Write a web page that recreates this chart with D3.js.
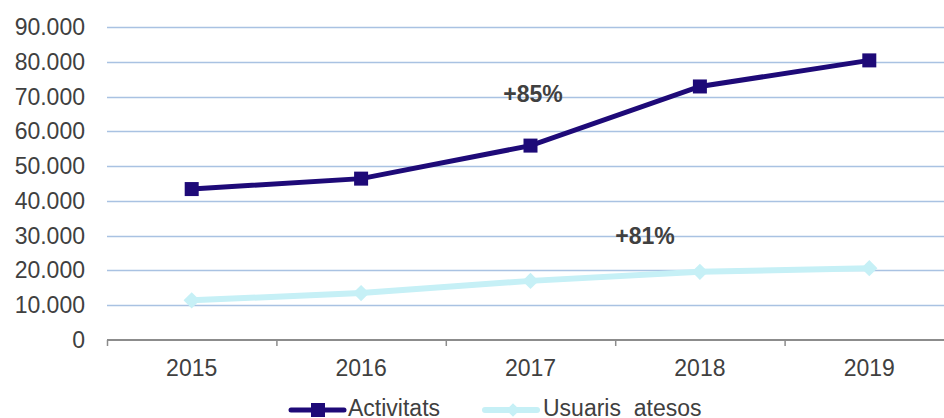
<!DOCTYPE html>
<html>
<head>
<meta charset="utf-8">
<script src="https://cdn.jsdelivr.net/npm/d3@7"></script>
<style>
  body { margin: 0; background: #fff; }
  svg { display: block; font-family: "Liberation Sans", Arial, sans-serif; }
</style>
</head>
<body>
<svg id="chart" width="944" height="418"></svg>
<script>
// chart data
const years = ["2015", "2016", "2017", "2018", "2019"];
const activitats = [43400, 46400, 55900, 72900, 80400];
const usuaris = [11400, 13500, 17000, 19600, 20650];
const yTicks = [0, 10000, 20000, 30000, 40000, 50000, 60000, 70000, 80000, 90000];
const growthLabels = ["+85%", "+81%"];
const seriesNames = ["Activitats", "Usuaris  atesos"];

const width = 944, height = 418;
const margin = { top: 27, right: -10, bottom: 78, left: 107 };
const fontSize = "23px";

const svg = d3.select("#chart");

//make scales
const xScale = d3
  .scaleBand()
  .domain(years)
  .range([margin.left, width - margin.right]);
const yScale = d3
  .scaleLinear()
  .domain([0, 90000])
  .range([height - margin.bottom, margin.top]);

const fmt = d => d3.format(",")(d).replace(/,/g, ".");
const textColor = "#404040";

// gridlines
svg.append("g")
  .selectAll("line")
  .data(yTicks.filter(d => d > 0))
  .join("line")
  .attr("x1", margin.left)
  .attr("x2", width)
  .attr("y1", d => Math.round(yScale(d)) + 0.5)
  .attr("y2", d => Math.round(yScale(d)) + 0.5)
  .attr("stroke", "#a9c2e2")
  .attr("stroke-width", 1.5);

// y axis labels
svg.append("g")
  .selectAll("text")
  .data(yTicks)
  .join("text")
  .attr("x", 85)
  .attr("y", d => yScale(d) + 8)
  .attr("text-anchor", "end")
  .style("font-size", fontSize)
  .style("fill", textColor)
  .text(fmt);

// x axis
const xAxis = g => {
  g.attr("transform", `translate(0, ${yScale(0)})`).call(
    d3.axisBottom(xScale).tickSizeOuter(0).tickSize(0).tickPadding(20)
  );
  g.select(".domain").attr("stroke", "#8c8c8c").attr("stroke-width", 2)
    .attr("d", `M${margin.left},0H${width}`);
  g.selectAll(".tick text")
    .style("font-size", fontSize)
    .style("fill", textColor)
    .style("font-family", `"Liberation Sans", Arial, sans-serif`);
  return g;
};
svg.append("g").call(xAxis);

// category separator ticks
svg.append("g")
  .selectAll("line")
  .data(years)
  .join("line")
  .attr("x1", d => xScale(d) + 0.5)
  .attr("x2", d => xScale(d) + 0.5)
  .attr("y1", yScale(0))
  .attr("y2", yScale(0) + 6)
  .attr("stroke", "#8c8c8c")
  .attr("stroke-width", 1.5);

const cx = d => xScale(d) + xScale.bandwidth() / 2;

const line = d3.line()
  .x((d, i) => cx(years[i]))
  .y(d => yScale(d));

const colorA = "#1e0a78";
const colorU = "#c6f0f6";

// usuaris line + diamonds
svg.append("path")
  .datum(usuaris)
  .attr("d", line)
  .attr("fill", "none")
  .attr("stroke", colorU)
  .attr("stroke-width", 6);
svg.append("g")
  .selectAll("path")
  .data(usuaris)
  .join("path")
  .attr("d", d3.symbol(d3.symbolDiamond2, 170))
  .attr("transform", (d, i) => `translate(${cx(years[i])}, ${yScale(d)})`)
  .attr("fill", colorU);

// activitats line + squares
svg.append("path")
  .datum(activitats)
  .attr("d", line)
  .attr("fill", "none")
  .attr("stroke", colorA)
  .attr("stroke-width", 5);
svg.append("g")
  .selectAll("rect")
  .data(activitats)
  .join("rect")
  .attr("x", (d, i) => cx(years[i]) - 7)
  .attr("y", d => yScale(d) - 7)
  .attr("width", 14)
  .attr("height", 14)
  .attr("fill", colorA);

// growth annotations
svg.append("text")
  .attr("x", 533)
  .attr("y", 102)
  .attr("text-anchor", "middle")
  .style("font-size", fontSize)
  .style("font-weight", "bold")
  .style("fill", textColor)
  .text(growthLabels[0]);
svg.append("text")
  .attr("x", 645)
  .attr("y", 244)
  .attr("text-anchor", "middle")
  .style("font-size", fontSize)
  .style("font-weight", "bold")
  .style("fill", textColor)
  .text(growthLabels[1]);

// legend
const legend = svg.append("g");
const legendY = 410;
legend.append("line")
  .attr("x1", 291).attr("x2", 344)
  .attr("y1", legendY).attr("y2", legendY)
  .attr("stroke", colorA).attr("stroke-width", 5)
  .attr("stroke-linecap", "round");
legend.append("rect")
  .attr("x", 311).attr("y", legendY - 7)
  .attr("width", 14).attr("height", 14)
  .attr("fill", colorA);
legend.append("text")
  .attr("x", 348).attr("y", 416)
  .style("font-size", fontSize).style("fill", textColor)
  .text(seriesNames[0]);

legend.append("line")
  .attr("x1", 485).attr("x2", 537)
  .attr("y1", legendY).attr("y2", legendY)
  .attr("stroke", colorU).attr("stroke-width", 6)
  .attr("stroke-linecap", "round");
legend.append("path")
  .attr("d", d3.symbol(d3.symbolDiamond2, 120))
  .attr("transform", `translate(513, ${legendY})`)
  .attr("fill", colorU);
legend.append("text")
  .attr("x", 543).attr("y", 416)
  .attr("xml:space", "preserve")
  .style("white-space", "pre")
  .style("font-size", fontSize).style("fill", textColor)
  .text(seriesNames[1]);
</script>
</body>
</html>
